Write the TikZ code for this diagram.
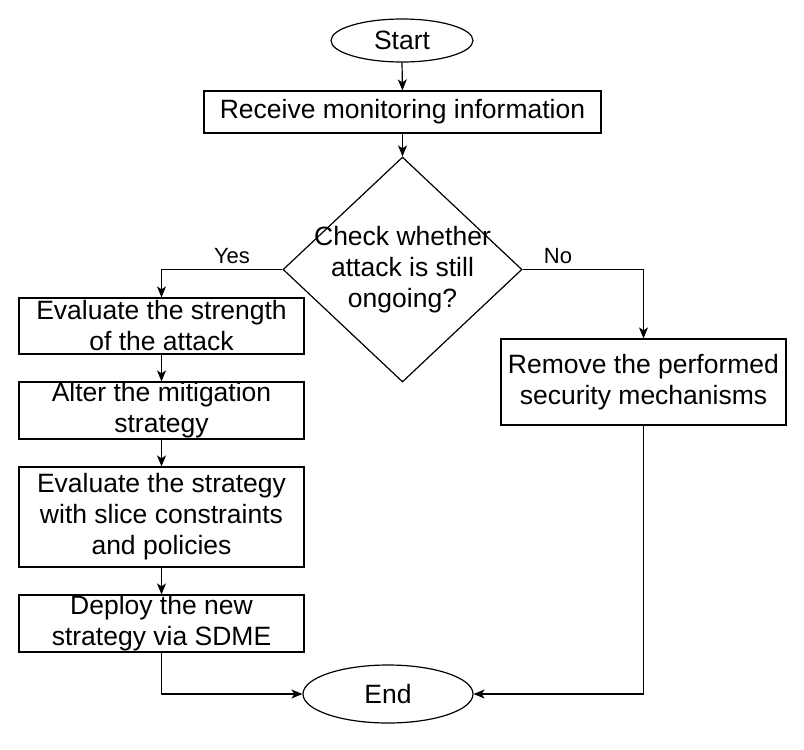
\documentclass[tikz,border=0pt]{standalone}
\usepackage{fontspec}
\setmainfont{Liberation Sans}
\usetikzlibrary{shapes.geometric,arrows.meta}
\begin{document}
\begin{tikzpicture}[x=1pt,y=-1pt,
  every node/.style={font=\fontsize{26.5}{31}\selectfont, text=black},
  box/.style={draw, line width=1.2pt, rectangle, inner sep=0pt, align=center, minimum width=285pt},
  term/.style={draw, line width=1.2pt, ellipse, inner sep=0pt},
  decide/.style={draw, line width=1.2pt, diamond, inner sep=0pt},
  conn/.style={line width=1.2pt, -{Stealth[length=11pt,width=9pt,inset=3pt]}},
  lbl/.style={inner sep=0pt, anchor=base, font=\fontsize{22}{26}\selectfont}
]
\useasboundingbox[fill=white] (0,0) rectangle (804,750);

\node[term, minimum width=142pt, minimum height=43pt] (start) at (402,40.5) {Start};
\node[box, minimum width=397pt, minimum height=42pt] (recv) at (402.5,112) {Receive monitoring information};
\node[decide, minimum width=239pt, minimum height=225pt] (dia) at (402.5,269.5) {};
\node[align=center, inner sep=0pt] (diatext) at (402.5,269.5) {Check whether\\attack is still\\ongoing?};

\node[box, minimum height=56pt] (eval) at (161.5,326) {Evaluate the strength\\of the attack};
\node[box, minimum height=57pt] (alter) at (161.5,410.5) {Alter the mitigation\\strategy};
\node[box, minimum height=100pt] (evs) at (161.5,517) {Evaluate the strategy\\with slice constraints\\and policies};
\node[box, minimum height=57pt] (deploy) at (161.5,623.5) {Deploy the new\\strategy via SDME};

\node[box, minimum height=86pt] (rem) at (643.5,382) {Remove the performed\\security mechanisms};

\node[term, minimum width=170pt, minimum height=58pt] (end) at (388,694) {End};

\draw[conn] (start.south) -- (recv.north);
\draw[conn] (recv.south) -- (dia.north);
\draw[conn] (dia.west) -| (eval.north);
\draw[conn] (dia.east) -| (rem.north);
\draw[conn] (eval.south) -- (alter.north);
\draw[conn] (alter.south) -- (evs.north);
\draw[conn] (evs.south) -- (deploy.north);
\draw[conn] (deploy.south) |- (end.west);
\draw[conn] (rem.south) |- (end.east);

\node[lbl] (yes) at (232,263) {Yes};
\node[lbl] (no) at (558,263) {No};
\end{tikzpicture}
\end{document}
